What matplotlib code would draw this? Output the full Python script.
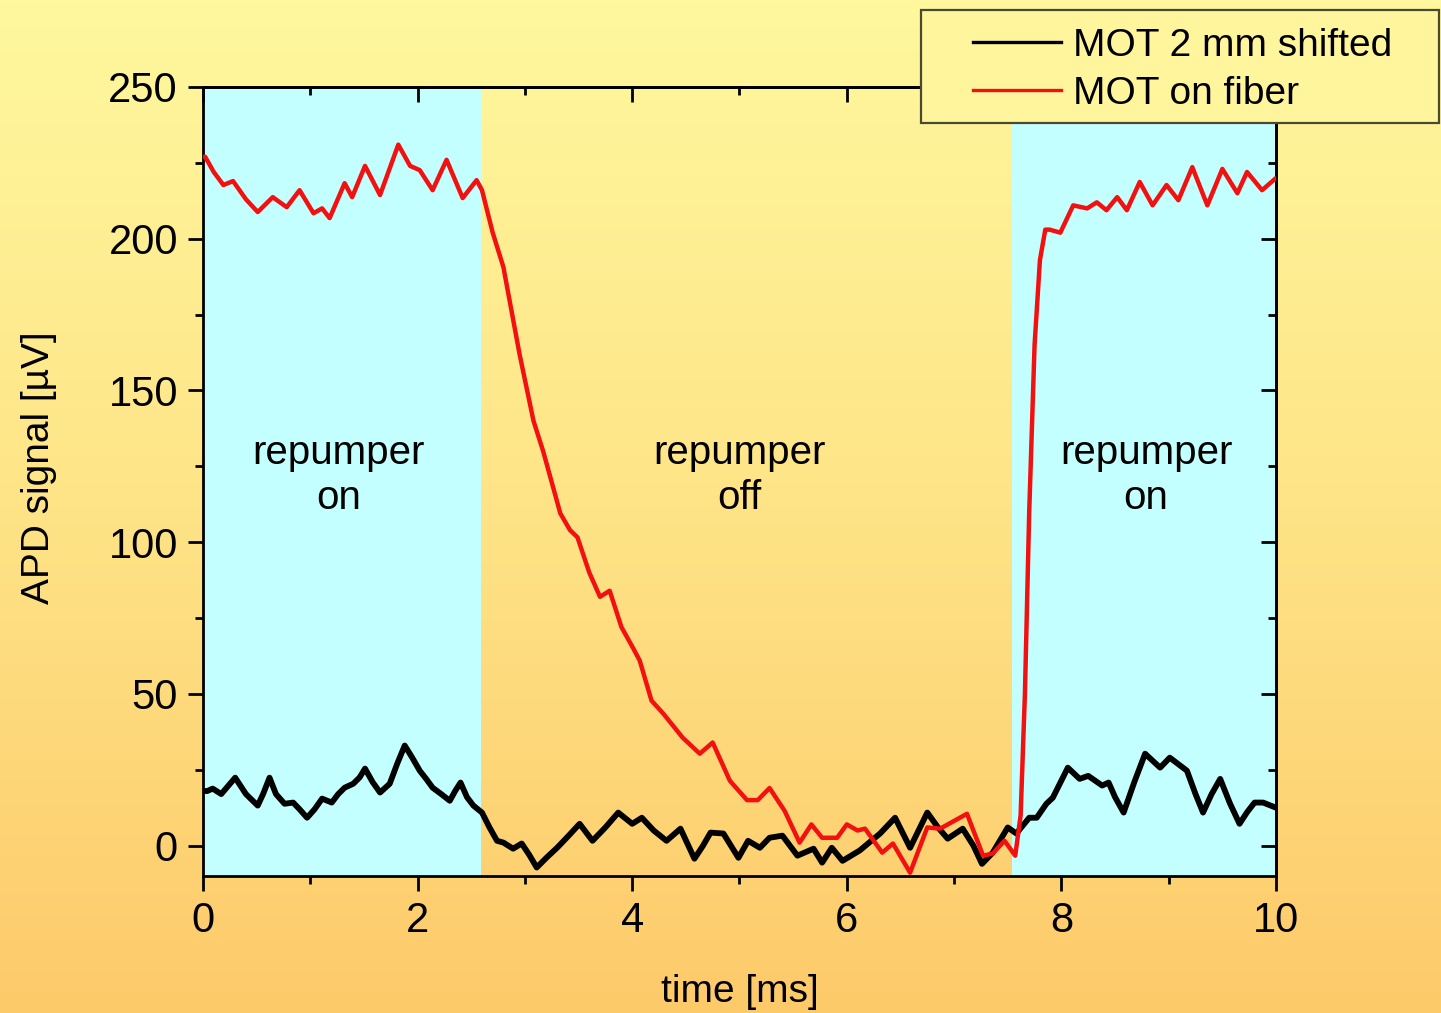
import numpy as np
import matplotlib
matplotlib.use("Agg")
import matplotlib.pyplot as plt
from matplotlib.colors import LinearSegmentedColormap
from matplotlib.patches import Rectangle
from matplotlib.lines import Line2D

# ---------------- data ----------------
t_shifted = [0.00, 0.04, 0.09, 0.17, 0.23, 0.30, 0.40, 0.51, 0.56, 0.62, 0.68, 0.76, 0.84, 0.90,
             0.97, 1.04, 1.11, 1.20, 1.26, 1.32, 1.40, 1.46, 1.51, 1.58, 1.65, 1.74, 1.81, 1.88,
             1.95, 2.02, 2.08, 2.14, 2.22, 2.30, 2.35, 2.40, 2.46, 2.52, 2.60, 2.67, 2.74, 2.80,
             2.89, 2.97, 3.04, 3.11, 3.20, 3.30, 3.40, 3.51, 3.63, 3.75, 3.87, 4.00, 4.09, 4.20,
             4.32, 4.45, 4.58, 4.66, 4.73, 4.85, 4.99, 5.08, 5.19, 5.28, 5.40, 5.54, 5.69, 5.77,
             5.86, 5.96, 6.12, 6.31, 6.45, 6.59, 6.75, 6.85, 6.94, 7.08, 7.18, 7.26, 7.36, 7.50,
             7.58, 7.70, 7.77, 7.86, 7.92, 8.06, 8.17, 8.25, 8.38, 8.44, 8.50, 8.58, 8.68, 8.78,
             8.92, 9.01, 9.17, 9.25, 9.32, 9.40, 9.48, 9.57, 9.66, 9.73, 9.80, 9.88, 10.00]
v_shifted = [18.0, 18.0, 18.8, 17.0, 19.5, 22.4, 17.0, 13.2, 17.0, 22.4, 17.0, 13.8, 14.2, 12.0,
             9.2, 12.0, 15.5, 14.2, 17.0, 19.1, 20.4, 22.5, 25.4, 21.0, 17.5, 20.4, 27.0, 33.0,
             29.0, 24.7, 22.0, 19.1, 17.0, 14.8, 18.0, 20.8, 16.0, 13.2, 10.9, 6.0, 1.6, 1.0,
             -1.0, 0.7, -3.0, -7.2, -4.0, -0.7, 3.0, 7.2, 1.6, 6.0, 10.9, 7.2, 9.2, 5.0,
             1.6, 5.6, -4.3, 0.0, 4.3, 4.0, -4.0, 1.6, -0.7, 2.6, 3.3, -3.3, -1.0, -5.6,
             -0.7, -5.0, -1.6, 4.0, 9.2, -0.7, 10.9, 6.0, 2.3, 5.6, 0.0, -6.0, -2.3, 6.0,
             4.0, 9.2, 9.2, 13.8, 15.8, 25.7, 22.0, 23.0, 19.8, 20.8, 16.0, 10.9, 21.0, 30.3,
             25.7, 29.0, 24.7, 17.0, 10.9, 17.0, 22.0, 14.0, 7.2, 11.0, 14.2, 14.2, 12.5]

t_fiber = [0.00, 0.02, 0.10, 0.19, 0.28, 0.40, 0.51, 0.65, 0.78, 0.90, 1.03, 1.11, 1.18, 1.32,
           1.39, 1.51, 1.65, 1.82, 1.93, 2.02, 2.14, 2.27, 2.42, 2.55, 2.60, 2.70, 2.80, 2.95,
           3.08, 3.17, 3.33, 3.42, 3.49, 3.60, 3.70, 3.79, 3.90, 4.01, 4.07, 4.18, 4.29, 4.47,
           4.63, 4.75, 4.91, 5.07, 5.17, 5.28, 5.42, 5.56, 5.67, 5.77, 5.91, 6.00, 6.10, 6.17,
           6.33, 6.43, 6.59, 6.75, 6.87, 7.12, 7.27, 7.36, 7.47, 7.57, 7.62, 7.66, 7.70, 7.75,
           7.80, 7.85, 7.89, 7.99, 8.11, 8.24, 8.33, 8.42, 8.52, 8.61, 8.73, 8.85, 8.98, 9.09,
           9.22, 9.36, 9.50, 9.64, 9.73, 9.87, 10.00]
v_fiber = [227.0, 227.0, 222.0, 217.7, 219.0, 213.0, 208.8, 213.7, 210.4, 216.0, 208.4, 210.0, 206.8, 218.3,
           213.7, 224.0, 214.4, 231.0, 224.0, 222.6, 216.0, 226.0, 213.4, 219.3, 216.0, 202.0, 190.6, 162.0,
           140.0, 130.0, 109.5, 104.0, 101.6, 90.0, 82.0, 84.0, 72.0, 65.0, 61.0, 47.8, 43.5, 35.6,
           30.3, 34.0, 21.4, 15.0, 15.0, 19.0, 11.5, 1.0, 7.0, 2.6, 2.6, 7.0, 5.0, 5.6,
           -2.3, 0.7, -8.9, 6.0, 5.6, 10.5, -3.3, -2.6, 1.6, -3.3, 10.0, 50.0, 110.0, 165.0,
           193.0, 203.0, 203.0, 202.0, 211.0, 210.0, 212.0, 209.4, 213.7, 209.4, 218.7, 211.0, 217.7, 212.7,
           223.6, 211.0, 223.0, 215.0, 222.0, 216.0, 220.0]

series_labels = ["MOT 2 mm shifted", "MOT on fiber"]
repumper_on_spans = [(0.0, 2.59), (7.54, 10.0)]
region_labels = ["repumper\non", "repumper\noff", "repumper\non"]
region_label_x = [1.26, 5.0, 8.79]
region_label_y = [122, 122, 122]
x_ticks = [0, 2, 4, 6, 8, 10]
y_ticks = [0, 50, 100, 150, 200, 250]

# ---------------- style ----------------
plt.rcParams['font.family'] = ['Liberation Sans', 'DejaVu Sans']
W, H = 1441, 1013
fig = plt.figure(figsize=(W / 100, H / 100), dpi=100)

# background gradient
bg = fig.add_axes([0, 0, 1, 1], zorder=-10)
cmap = LinearSegmentedColormap.from_list("bg", ["#FFF89E", "#FEE487", "#FDCA6A"])
grad = np.linspace(0, 1, 256).reshape(-1, 1)
bg.imshow(grad, aspect='auto', cmap=cmap, extent=[0, 1, 0, 1], origin='upper')
bg.set_axis_off()

L, R, B, T = 203, 1276, 876, 87
ax = fig.add_axes([L / W, 1 - B / H, (R - L) / W, (B - T) / H])
ax.set_facecolor('none')

for a, b in repumper_on_spans:
    ax.axvspan(a, b, color='#C4FFFF', zorder=0, lw=0)

ax.plot(t_shifted, v_shifted, color='black', lw=4.2, zorder=3,
        solid_joinstyle='round', solid_capstyle='round')
ax.plot(t_fiber, v_fiber, color='#F21010', lw=3.2, zorder=4,
        solid_joinstyle='round', solid_capstyle='round')

ax.set_xlim(0, 10)
ax.set_ylim(-10, 250)
ax.set_xticks(x_ticks)
ax.set_yticks(y_ticks)
ax.set_xticks([1, 3, 5, 7, 9], minor=True)
ax.set_yticks([25, 75, 125, 175, 225], minor=True)

for sp in ax.spines.values():
    sp.set_linewidth(2.0)
ax.tick_params(which='major', direction='out', length=11, width=2.0, labelsize=30, pad=7)
ax.tick_params(which='minor', direction='out', length=6, width=2.0)

secx = ax.secondary_xaxis('top')
secx.set_xticks(x_ticks)
secx.set_xticks([1, 3, 5, 7, 9], minor=True)
secx.tick_params(which='major', direction='in', length=11, width=2.0, labeltop=False)
secx.tick_params(which='minor', direction='in', length=6, width=2.0)
secx.spines['top'].set_linewidth(2.0)

secy = ax.secondary_yaxis('right')
secy.set_yticks(y_ticks)
secy.set_yticks([25, 75, 125, 175, 225], minor=True)
secy.tick_params(which='major', direction='in', length=11, width=2.0, labelright=False)
secy.tick_params(which='minor', direction='in', length=6, width=2.0)
secy.spines['right'].set_linewidth(2.0)

ax.set_xlabel("time [ms]", fontsize=28)
ax.set_ylabel("APD signal [µV]", fontsize=28)
ax.xaxis.set_label_coords(0.5, -0.124)
ax.yaxis.set_label_coords(-0.136, 0.518)

for x, y, s in zip(region_label_x, region_label_y, region_labels):
    ax.text(x, y, s, ha='center', va='center', fontsize=29, linespacing=1.25, zorder=5)

# legend box
fig.add_artist(Rectangle((921 / W, 1 - 123 / H), (1439 - 921) / W, (123 - 10) / H,
                         transform=fig.transFigure, facecolor='#FFF59C',
                         edgecolor='#4A4A30', lw=1.6, zorder=5))
handles = [Line2D([], [], color='black', lw=2.4), Line2D([], [], color='#F21010', lw=2.4)]
fig.legend(handles, series_labels, loc='upper left', bbox_to_anchor=(973 / W, 1 - 28 / H),
           frameon=False, borderpad=0, borderaxespad=0, fontsize=28, handlelength=2.25,
           handletextpad=0.33, labelspacing=0.3).set_zorder(6)

fig.savefig("out.png", dpi=100)
